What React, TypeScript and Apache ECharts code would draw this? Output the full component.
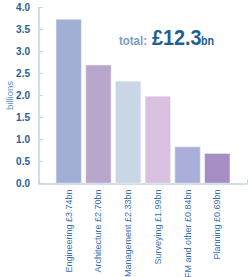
import React, { useEffect, useRef } from "react";
import * as echarts from "echarts";

const categories = [
  "Engineering £3.74bn",
  "Architecture £2.70bn",
  "Management £2.33bn",
  "Surveying £1.99bn",
  "FM and other £0.84bn",
  "Planning £0.69bn",
];
const values = [3.74, 2.7, 2.33, 1.99, 0.84, 0.69];
const barColors = ["#a0afd3", "#b9a6cb", "#c9d6e6", "#d9c0de", "#a9afd9", "#a68ec4"];
const yTicks = [0, 0.5, 1, 1.5, 2, 2.5, 3, 3.5, 4];
const totalLabel = "total:";
const totalValue = "£12.3";
const totalUnit = "bn";

const FONT = "'Liberation Sans', Arial, sans-serif";

export default function App() {
  const ref = useRef<HTMLDivElement>(null);
  useEffect(() => {
    if (!ref.current) return;
    document.body.style.margin = "0";
    const chart = echarts.init(ref.current, null, { renderer: "svg" });
    const cats = ["", ...categories, ""];
    const data: any[] = [
      "-",
      ...values.map((v, i) => ({ value: v, itemStyle: { color: barColors[i] } })),
      "-",
    ];
    chart.setOption({
      animation: false,
      grid: {
        left: 39,
        right: 3,
        top: 7.5,
        bottom: 93.5,
        containLabel: false,
        outerBoundsMode: "none",
      },
      xAxis: {
        type: "category",
        data: cats,
        boundaryGap: false,
        axisLine: { lineStyle: { color: "#c3d3e6", width: 1.5 } },
        axisTick: { show: true, inside: true, length: 4, lineStyle: { color: "#c3d3e6" } },
        axisLabel: {
          rotate: 90,
          interval: 0,
          margin: 6,
          color: "#3571ae",
          fontSize: 9,
          fontFamily: FONT,
        },
      },
      yAxis: {
        type: "value",
        min: yTicks[0],
        max: yTicks[yTicks.length - 1],
        interval: 0.5,
        name: "billions",
        nameLocation: "middle",
        nameGap: 25,
        nameMoveOverlap: false,
        nameRotate: 90,
        nameTextStyle: { color: "#5b8fc6", fontSize: 9.5, fontFamily: FONT },
        axisLine: { show: true, lineStyle: { color: "#c3d3e6", width: 1.5 } },
        axisTick: { show: true, inside: true, length: 4, lineStyle: { color: "#c3d3e6" } },
        splitLine: { show: false },
        axisLabel: {
          color: "#2a5d95",
          fontSize: 10,
          fontWeight: "bold",
          fontFamily: FONT,
          margin: 9,
          formatter: (v: number) => v.toFixed(1),
        },
      },
      graphic: [
        {
          type: "text",
          x: 119,
          y: 47,
          scaleX: 0.88,
          style: {
            text: totalLabel,
            fill: "#7a9cc4",
            font: `bold 13px ${FONT}`,
            verticalAlign: "bottom",
          },
        },
        {
          type: "text",
          x: 152,
          y: 48,
          scaleX: 0.9,
          style: {
            text: totalValue,
            fill: "#1c5f94",
            font: `bold 22px ${FONT}`,
            verticalAlign: "bottom",
          },
        },
        {
          type: "text",
          x: 201,
          y: 47,
          scaleX: 0.82,
          style: {
            text: totalUnit,
            fill: "#1c5f94",
            font: `bold 13px ${FONT}`,
            verticalAlign: "bottom",
          },
        },
      ],
      series: [
        {
          type: "bar",
          data,
          barWidth: 26,
          itemStyle: { borderColor: "#eef1f8", borderWidth: 0.6 },
        },
      ],
    });
    return () => chart.dispose();
  }, []);
  return <div ref={ref} style={{ width: 250, height: 277 }} />;
}
